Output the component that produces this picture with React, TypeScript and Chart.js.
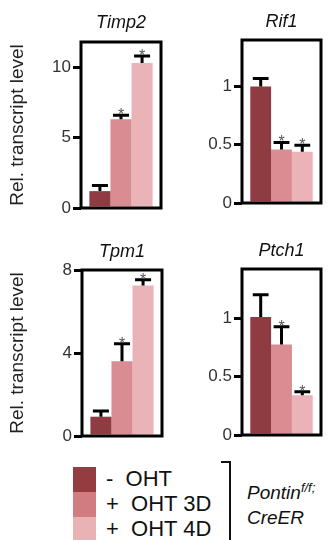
import React, { useEffect, useRef } from "react";
import { Chart, registerables } from "chart.js";

Chart.register(...registerables);

const FONT = "'Liberation Sans', Arial, Helvetica, sans-serif";

// ---- data ----
const groups = ["- OHT", "+ OHT 3D", "+ OHT 4D"];
const barColors = ["#8f3b42", "#d98c92", "#e9b3b8"];
const legendColors = ["#943c40", "#d07c80", "#e9b2b5"];
const yAxisTitle = "Rel. transcript level";

const timp2Values = [1.2, 6.3, 10.3];
const timp2Errors = [0.4, 0.3, 0.5];
const timp2Sig = [false, true, true];
const timp2Ticks = [0, 5, 10];
const timp2TickLabels = ["0", "5", "10"];
const timp2Max = 11.8;

const rif1Values = [1.0, 0.46, 0.44];
const rif1Errors = [0.07, 0.06, 0.055];
const rif1Sig = [false, true, true];
const rif1Ticks = [0, 0.5, 1];
const rif1TickLabels = ["0", "0.5", "1"];
const rif1Max = 1.4;

const tpm1Values = [0.93, 3.6, 7.25];
const tpm1Errors = [0.27, 0.85, 0.28];
const tpm1Sig = [false, true, true];
const tpm1Ticks = [0, 4, 8];
const tpm1TickLabels = ["0", "4", "8"];
const tpm1Max = 8;

const ptch1Values = [1.01, 0.775, 0.34];
const ptch1Errors = [0.19, 0.15, 0.03];
const ptch1Sig = [false, true, true];
const ptch1Ticks = [0, 0.5, 1];
const ptch1TickLabels = ["0", "0.5", "1"];
const ptch1Max = 1.42;

type Rect = { left: number; top: number; width: number; height: number };
type Area = { left: number; right: number; top: number; bottom: number };

type PanelProps = {
  title: string;
  values: number[];
  errors: number[];
  sig: boolean[];
  ticks: number[];
  tickLabels: string[];
  max: number;
  showYTitle: boolean;
  box: Rect;
  area: Area;
  titleCenterY: number;
};

function Panel(p: PanelProps) {
  const ref = useRef<HTMLCanvasElement | null>(null);
  useEffect(() => {
    const canvas = ref.current;
    if (!canvas) return;
    const titleSize = 18;
    const titleLine = titleSize * 1.2;
    const tTop = p.titleCenterY - p.box.top - titleLine / 2;
    const tBottom = p.area.top - p.box.top - tTop - titleLine;
    const yWidth = p.area.left - p.box.left;

    const framePlugin = {
      id: "frame",
      afterDraw(chart: any) {
        const { ctx, chartArea } = chart;
        ctx.save();
        ctx.strokeStyle = "#000";
        ctx.lineWidth = 3;
        ctx.strokeRect(
          chartArea.left,
          chartArea.top,
          chartArea.right - chartArea.left,
          chartArea.bottom - chartArea.top
        );
        ctx.restore();
      },
    };

    const errorPlugin = {
      id: "errbars",
      afterDraw(chart: any) {
        const { ctx } = chart;
        const yScale = chart.scales.y;
        ctx.save();
        p.values.forEach((v, i) => {
          const meta = chart.getDatasetMeta(i);
          const bar = meta.data[0];
          if (!bar) return;
          const x = bar.x;
          const w = bar.width;
          const yTop = yScale.getPixelForValue(v);
          const yErr = yScale.getPixelForValue(v + p.errors[i]);
          ctx.strokeStyle = "#000";
          ctx.lineWidth = 3;
          ctx.beginPath();
          ctx.moveTo(x, yTop);
          ctx.lineTo(x, yErr);
          ctx.moveTo(x - w * 0.38, yErr);
          ctx.lineTo(x + w * 0.38, yErr);
          ctx.stroke();
          if (p.sig[i]) {
            ctx.fillStyle = "#555";
            ctx.font = `16px ${FONT}`;
            ctx.textAlign = "center";
            ctx.textBaseline = "alphabetic";
            ctx.fillText("*", x, yErr + 5);
          }
        });
        ctx.restore();
      },
    };

    const chart = new Chart(canvas, {
      type: "bar",
      data: {
        labels: [""],
        datasets: p.values.map((v, i) => ({
          label: groups[i],
          data: [v],
          backgroundColor: barColors[i],
          borderWidth: 0,
          categoryPercentage: 0.79,
          barPercentage: 1,
        })),
      },
      options: {
        animation: false,
        responsive: false,
        maintainAspectRatio: false,
        layout: {
          padding: {
            left: 0,
            top: 0,
            right: p.box.left + p.box.width - p.area.right,
            bottom: p.box.top + p.box.height - p.area.bottom,
          },
        },
        plugins: {
          legend: { display: false },
          tooltip: { enabled: false },
          title: {
            display: true,
            text: p.title,
            fullSize: false,
            color: "#111",
            font: { family: FONT, size: titleSize, style: "italic", weight: "normal" },
            padding: { top: tTop, bottom: tBottom },
          },
        },
        scales: {
          x: { display: false },
          y: {
            min: 0,
            max: p.max,
            afterBuildTicks: (s: any) => {
              s.ticks = p.ticks.map((v) => ({ value: v }));
            },
            afterFit: (s: any) => {
              s.width = yWidth;
            },
            border: { display: false },
            grid: {
              display: true,
              drawOnChartArea: false,
              drawTicks: true,
              tickLength: 8,
              lineWidth: 3,
              color: "#000",
            },
            ticks: {
              color: "#333",
              padding: 2,
              font: { family: FONT, size: 17 },
              callback: (_v: any, i: number) => p.tickLabels[i],
            },
            title: {
              display: p.showYTitle,
              text: yAxisTitle,
              color: "#222",
              font: { family: FONT, size: 19 },
              padding: { top: 6, bottom: 0 },
            },
          },
        },
      },
      plugins: [errorPlugin, framePlugin],
    } as any);
    return () => chart.destroy();
  }, []);
  return (
    <canvas
      ref={ref}
      width={p.box.width}
      height={p.box.height}
      style={{
        position: "absolute",
        left: p.box.left,
        top: p.box.top,
        width: p.box.width,
        height: p.box.height,
      }}
    />
  );
}

export default function App() {
  return (
    <div
      style={{
        position: "absolute",
        left: 0,
        top: 0,
        width: 331,
        height: 540,
        background: "#fff",
        overflow: "hidden",
        fontFamily: FONT,
      }}
    >
      <Panel
        title="Timp2"
        values={timp2Values}
        errors={timp2Errors}
        sig={timp2Sig}
        ticks={timp2Ticks}
        tickLabels={timp2TickLabels}
        max={timp2Max}
        showYTitle={true}
        box={{ left: 0, top: 0, width: 166, height: 225 }}
        area={{ left: 81, right: 161, top: 42, bottom: 208 }}
        titleCenterY={23}
      />
      <Panel
        title="Rif1"
        values={rif1Values}
        errors={rif1Errors}
        sig={rif1Sig}
        ticks={rif1Ticks}
        tickLabels={rif1TickLabels}
        max={rif1Max}
        showYTitle={false}
        box={{ left: 165, top: 0, width: 166, height: 222 }}
        area={{ left: 242, right: 321, top: 40, bottom: 203 }}
        titleCenterY={22}
      />
      <Panel
        title="Tpm1"
        values={tpm1Values}
        errors={tpm1Errors}
        sig={tpm1Sig}
        ticks={tpm1Ticks}
        tickLabels={tpm1TickLabels}
        max={tpm1Max}
        showYTitle={true}
        box={{ left: 0, top: 232, width: 166, height: 222 }}
        area={{ left: 82, right: 162, top: 270, bottom: 436 }}
        titleCenterY={252}
      />
      <Panel
        title="Ptch1"
        values={ptch1Values}
        errors={ptch1Errors}
        sig={ptch1Sig}
        ticks={ptch1Ticks}
        tickLabels={ptch1TickLabels}
        max={ptch1Max}
        showYTitle={false}
        box={{ left: 165, top: 232, width: 166, height: 222 }}
        area={{ left: 242, right: 321, top: 269, bottom: 435 }}
        titleCenterY={251}
      />
      {groups.map((g, i) => (
        <React.Fragment key={g}>
          <div
            style={{
              position: "absolute",
              left: 73,
              top: 467 + i * 25,
              width: 23,
              height: 25,
              background: legendColors[i],
            }}
          />
          <div
            style={{
              position: "absolute",
              left: 106,
              top: 466 + i * 25,
              height: 25,
              lineHeight: "25px",
              fontSize: 22,
              color: "#111",
              whiteSpace: "pre",
            }}
          >
            {g.replace(" ", "  ")}
          </div>
        </React.Fragment>
      ))}
      <div
        style={{
          position: "absolute",
          left: 221,
          top: 461,
          width: 8,
          height: 85,
          borderTop: "2px solid #111",
          borderRight: "2px solid #111",
        }}
      />
      <div
        style={{
          position: "absolute",
          left: 247,
          top: 475,
          fontSize: 19,
          fontStyle: "italic",
          color: "#111",
          lineHeight: "25px",
          whiteSpace: "pre",
        }}
      >
        Pontin<sup style={{ fontSize: 13, verticalAlign: "7px" }}>f/f;</sup>
        <br />
        CreER
      </div>
    </div>
  );
}
